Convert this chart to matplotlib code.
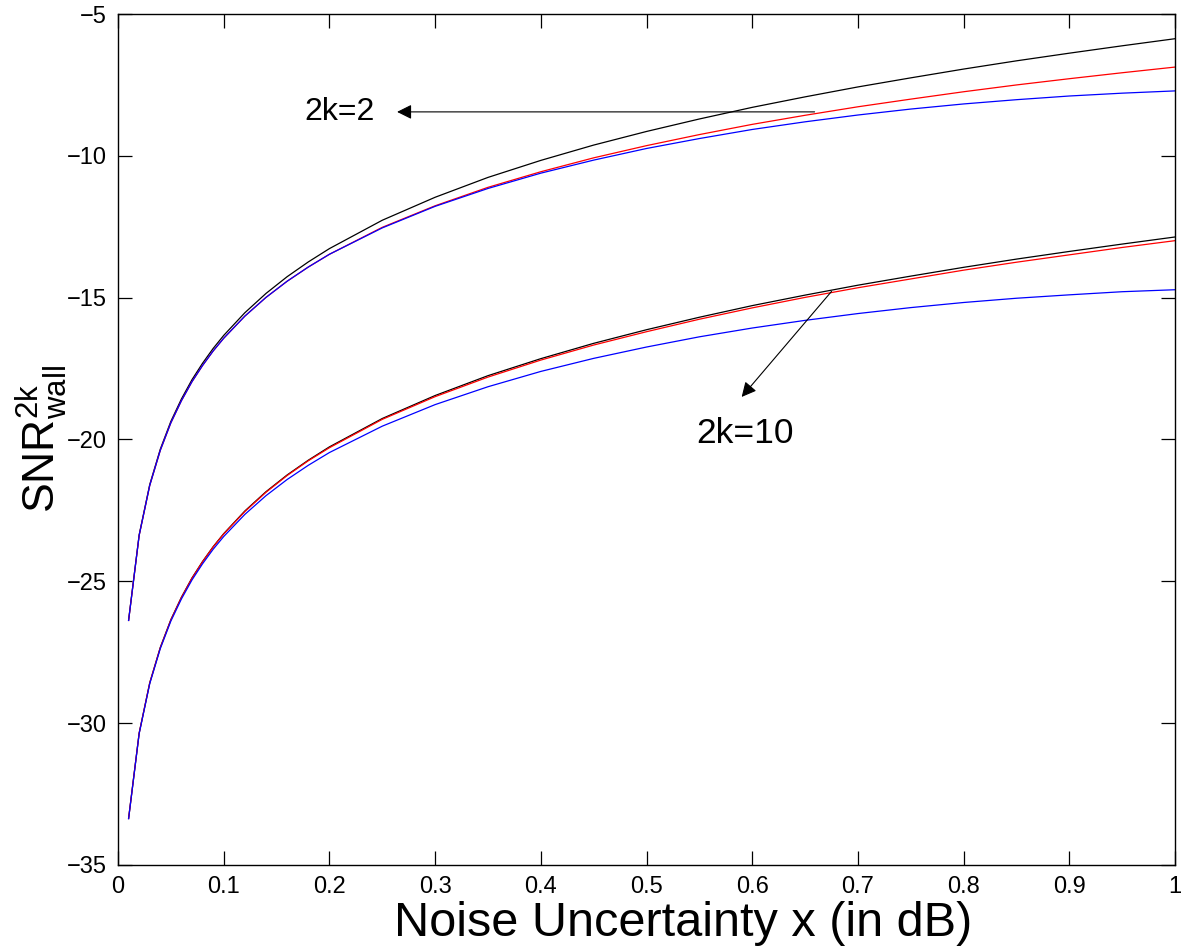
import matplotlib
matplotlib.use("Agg")
import matplotlib.pyplot as plt

plt.rcParams['font.family'] = ['Liberation Sans', 'DejaVu Sans']
plt.rcParams['mathtext.fontset'] = 'custom'
plt.rcParams['mathtext.rm'] = 'Liberation Sans'
plt.rcParams['mathtext.it'] = 'Liberation Sans'

# noise uncertainty x (dB)
x = [0.01, 0.02, 0.03, 0.04, 0.05, 0.06, 0.07, 0.08, 0.09, 0.10,
     0.12, 0.14, 0.16, 0.18, 0.20, 0.25, 0.30, 0.35, 0.40, 0.45,
     0.50, 0.55, 0.60, 0.65, 0.70, 0.75, 0.80, 0.85, 0.90, 0.95, 1.00]

# SNR wall (dB), 2k = 2
k2_black = [-26.37, -23.36, -21.59, -20.34, -19.36, -18.57, -17.89, -17.31, -16.79, -16.33,
            -15.53, -14.85, -14.26, -13.74, -13.27, -12.27, -11.46, -10.76, -10.16, -9.62,
            -9.14, -8.70, -8.29, -7.92, -7.57, -7.25, -6.94, -6.65, -6.38, -6.12, -5.87]
k2_red = [-26.38, -23.38, -21.62, -20.38, -19.41, -18.63, -17.96, -17.39, -16.88, -16.43,
          -15.65, -14.99, -14.42, -13.92, -13.47, -12.52, -11.76, -11.11, -10.56, -10.07,
          -9.64, -9.25, -8.89, -8.57, -8.27, -8.00, -7.74, -7.50, -7.28, -7.07, -6.87]
k2_blue = [-26.38, -23.38, -21.62, -20.38, -19.41, -18.63, -17.96, -17.39, -16.88, -16.43,
           -15.65, -14.99, -14.42, -13.92, -13.47, -12.54, -11.78, -11.15, -10.61, -10.15,
           -9.74, -9.39, -9.07, -8.80, -8.56, -8.35, -8.17, -8.02, -7.89, -7.79, -7.71]

# SNR wall (dB), 2k = 10
k10_black = [-33.36, -30.35, -28.58, -27.33, -26.35, -25.56, -24.88, -24.30, -23.78, -23.32,
             -22.52, -21.84, -21.25, -20.73, -20.26, -19.26, -18.45, -17.75, -17.15, -16.61,
             -16.13, -15.69, -15.28, -14.91, -14.56, -14.24, -13.93, -13.64, -13.37, -13.11, -12.86]
k10_red = [-33.36, -30.35, -28.58, -27.34, -26.36, -25.57, -24.89, -24.31, -23.79, -23.33,
           -22.54, -21.86, -21.27, -20.75, -20.29, -19.29, -18.49, -17.80, -17.20, -16.67,
           -16.20, -15.76, -15.36, -14.99, -14.65, -14.34, -14.03, -13.75, -13.49, -13.23, -12.99]
k10_blue = [-33.37, -30.37, -28.61, -27.37, -26.40, -25.62, -24.95, -24.38, -23.87, -23.42,
            -22.64, -21.98, -21.41, -20.91, -20.46, -19.53, -18.77, -18.14, -17.60, -17.14,
            -16.74, -16.38, -16.07, -15.80, -15.56, -15.35, -15.17, -15.02, -14.90, -14.79, -14.72]

xticks = [0, 0.1, 0.2, 0.3, 0.4, 0.5, 0.6, 0.7, 0.8, 0.9, 1]
yticks = [-35, -30, -25, -20, -15, -10, -5]

fig = plt.figure(figsize=(11.91, 9.48), dpi=100)
ax = fig.add_axes([0.0991, 0.0876, 0.8875, 0.8976])

lw = 0.9
ax.plot(x, k2_black, color='k', lw=lw)
ax.plot(x, k2_red, color='r', lw=lw)
ax.plot(x, k2_blue, color='b', lw=lw)
ax.plot(x, k10_black, color='k', lw=lw)
ax.plot(x, k10_red, color='r', lw=lw)
ax.plot(x, k10_blue, color='b', lw=lw)

ax.set_xlim(0, 1)
ax.set_ylim(-35, -5)
ax.set_xticks(xticks)
ax.set_yticks(yticks)
ax.set_xticklabels(['%g' % t for t in xticks])
ax.set_yticklabels(['\u2212%g' % -t for t in yticks])
ax.tick_params(direction='in', length=10, width=0.9, labelsize=17,
               top=True, right=True, pad=8)
for s in ax.spines.values():
    s.set_linewidth(1.0)

ax.set_xlabel('Noise Uncertainty x (in dB)', fontsize=35)
ax.xaxis.set_label_coords(0.535, -0.042)
ax.xaxis.label.set_va('top')
ax.set_ylabel(r'SNR$^{\mathrm{2k}}_{\mathrm{wall}}$', fontsize=32, labelpad=-2)

arrow = dict(arrowstyle='-|>', color='k', lw=0.8, mutation_scale=22,
             shrinkA=0, shrinkB=0)
ax.annotate('', xy=(0.264, -8.45), xytext=(0.659, -8.45), arrowprops=arrow)
ax.text(0.21, -8.45, '2k=2', fontsize=23, ha='center', va='center')
ax.annotate('', xy=(0.590, -18.5), xytext=(0.675, -14.78), arrowprops=arrow)
ax.text(0.593, -19.78, '2k=10', fontsize=25.5, ha='center', va='center')

fig.savefig('out.png', dpi=100)
